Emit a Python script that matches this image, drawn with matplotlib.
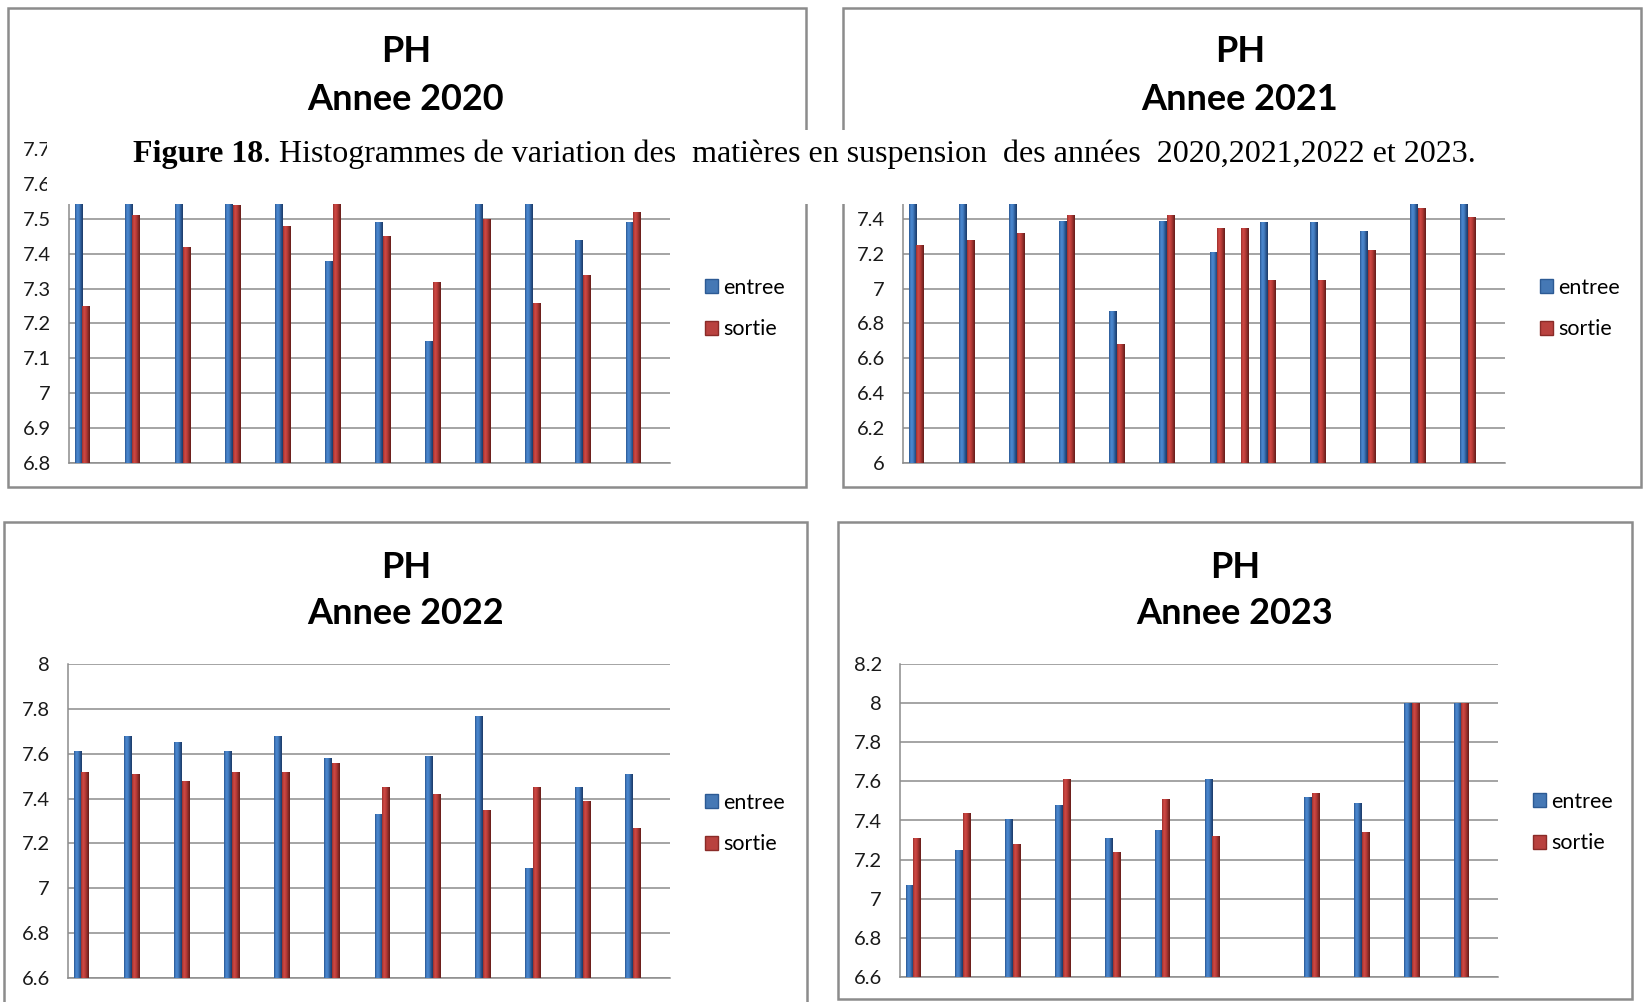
import numpy as np
import matplotlib
matplotlib.use("Agg")
import matplotlib.pyplot as plt
from matplotlib.patches import Rectangle, Patch
from matplotlib.colors import LinearSegmentedColormap

W, H = 1648, 1002

# 12 campagnes de mesure par an (pas d'etiquettes sur l'axe x)
months = np.arange(12)

entree_2020 = [7.62, 7.65, 7.60, 7.64, 7.61, 7.38, 7.49, 7.15, 7.60, 7.63, 7.44, 7.49]
sortie_2020 = [7.25, 7.51, 7.42, 7.54, 7.48, 7.58, 7.45, 7.32, 7.50, 7.26, 7.34, 7.52]

entree_2021 = [7.60, 7.62, 7.58, 7.39, 6.87, 7.39, 7.21, 7.38, 7.38, 7.33, 7.65, 7.70]
sortie_2021 = [7.25, 7.28, 7.32, 7.42, 6.68, 7.42, 7.35, 7.05, 7.05, 7.22, 7.46, 7.41]
# barre isolee (serie sans legende) entre le 7e et le 8e groupe
extra_2021_index = [6]
extra_2021 = [7.35]

entree_2022 = [7.61, 7.68, 7.65, 7.61, 7.68, 7.58, 7.33, 7.59, 7.77, 7.09, 7.45, 7.51]
sortie_2022 = [7.52, 7.51, 7.48, 7.52, 7.52, 7.56, 7.45, 7.42, 7.35, 7.45, 7.39, 7.27]

entree_2023 = [7.07, 7.25, 7.41, 7.48, 7.31, 7.35, 7.61, np.nan, 7.52, 7.49, 8.00, 8.00]
sortie_2023 = [7.31, 7.44, 7.28, 7.61, 7.24, 7.51, 7.32, np.nan, 7.54, 7.34, 8.00, 8.00]

yticks_2020 = [6.8, 6.9, 7.0, 7.1, 7.2, 7.3, 7.4, 7.5, 7.6, 7.7]
yticks_2021 = [6.0, 6.2, 6.4, 6.6, 6.8, 7.0, 7.2, 7.4, 7.6, 7.8]
yticks_2022 = [6.6, 6.8, 7.0, 7.2, 7.4, 7.6, 7.8, 8.0]
yticks_2023 = [6.6, 6.8, 7.0, 7.2, 7.4, 7.6, 7.8, 8.0, 8.2]

series_labels = ["entree", "sortie"]
caption_bold = "Figure 18"
caption_rest = ". Histogrammes de variation des  mati\u00e8res en suspension  des ann\u00e9es  2020,2021,2022 et 2023."

BLUE = "#4578B5"
RED = "#B9423F"
GRID = "#8C8C8C"
blue_cmap = LinearSegmentedColormap.from_list("b", ["#2a5892", "#4a86cf", "#4580c4", "#2b5893", "#1c3a66"])
red_cmap = LinearSegmentedColormap.from_list("r", ["#9c302c", "#cf4945", "#bf3e3a", "#902d2a", "#641d1a"])

OFF_E, OFF_S, OFF_X, BW = -0.31, -0.155, 0.315, 0.155
BAND_TOP, BAND_BOT = 130, 204


def fig_box(x0, y0, x1, y1):
    return [x0 / W, 1 - y1 / H, (x1 - x0) / W, (y1 - y0) / H]


def shade(ax, bars, cmap):
    grad = np.linspace(0, 1, 64).reshape(1, -1)
    for b in bars:
        if not np.isfinite(b.get_height()) or b.get_height() <= 0:
            continue
        x0, y0 = b.get_x(), b.get_y()
        im = ax.imshow(grad, cmap=cmap, aspect="auto", zorder=3,
                       extent=[x0, x0 + b.get_width(), y0, y0 + b.get_height()])
        im.set_clip_path(b)


def panel(fig, box, entree, sortie, yticks, frame, title, tcx, leg):
    # cadre gris du graphique
    fx0, fy0, fx1, fy1 = frame
    fig.add_artist(Rectangle((fx0 / W, 1 - fy1 / H), (fx1 - fx0) / W, (fy1 - fy0) / H,
                             transform=fig.transFigure, fill=False, edgecolor=GRID, lw=1.8, zorder=1))
    fig.text(tcx / W, 1 - box[4] / H, "PH", ha="center", va="center",
             fontsize=26, fontweight="bold", family="Lato")
    fig.text(tcx / W, 1 - box[5] / H, title, ha="center", va="center",
             fontsize=26, fontweight="bold", family="Lato")

    ymin = yticks[0]
    ax = fig.add_axes(fig_box(*box[:4]))
    b1 = ax.bar(months + OFF_E, np.array(entree) - ymin, bottom=ymin, width=BW, color=BLUE, zorder=2)
    b2 = ax.bar(months + OFF_S, np.array(sortie) - ymin, bottom=ymin, width=BW, color=RED, zorder=2)
    shade(ax, b1, blue_cmap)
    shade(ax, b2, red_cmap)

    ax.set_xlim(-0.5, 11.5)
    ax.set_ylim(yticks[0], yticks[-1])
    ax.set_yticks(yticks)
    ax.set_yticklabels([f"{v:g}" for v in yticks])
    ax.set_xticks([])
    ax.tick_params(axis="y", length=0, pad=13, labelsize=14.5, labelcolor="#1a1a1a")
    for lab in ax.get_yticklabels():
        lab.set_family("Lato")
    ax.grid(axis="y", color=GRID, lw=1.1)
    ax.set_axisbelow(True)
    for s in ["top", "right"]:
        ax.spines[s].set_visible(False)
    for s in ["left", "bottom"]:
        ax.spines[s].set_color(GRID)
        ax.spines[s].set_linewidth(1.1)

    handles = [Patch(facecolor=BLUE, edgecolor="#2c5a94"), Patch(facecolor=RED, edgecolor="#8a2b28")]
    ax.legend(handles, series_labels, frameon=False, loc="upper left",
              bbox_to_anchor=(leg[0] / W, 1 - leg[1] / H), bbox_transform=fig.transFigure,
              handlelength=0.62, handleheight=0.62, handletextpad=0.22, labelspacing=1.0,
              borderpad=0, prop={"family": "Lato", "size": 15.5})
    return ax


def hide_under_band(ax, fig):
    # les etiquettes entierement couvertes par le bandeau de legende
    fig.canvas.draw()
    for lab in ax.get_yticklabels():
        bb = lab.get_window_extent()
        top_px = H - bb.y1
        bot_px = H - bb.y0
        if top_px > BAND_TOP and bot_px < BAND_BOT and bb.x0 > 47:
            lab.set_visible(False)


def main():
    fig = plt.figure(figsize=(W / 100, H / 100), dpi=100)

    # box = (gauche, haut, droite, bas, y "PH", y "Annee")
    panel(fig, (69, 149, 670, 463, 52, 100), entree_2020, sortie_2020, yticks_2020,
          (8, 8, 806, 487), "Annee 2020", 406, (694, 267))
    ax21 = panel(fig, (903, 149, 1505, 463, 52, 100), entree_2021, sortie_2021, yticks_2021,
                 (843, 8, 1641, 487), "Annee 2021", 1240, (1529, 267))
    bx = ax21.bar(np.array(extra_2021_index) + OFF_X, np.array(extra_2021) - yticks_2021[0],
                  bottom=yticks_2021[0], width=BW, color=RED, zorder=2)
    shade(ax21, bx, red_cmap)
    ax21.set_xlim(-0.5, 11.5)
    ax21.set_ylim(yticks_2021[0], yticks_2021[-1])

    panel(fig, (68, 664, 670, 978, 567, 614), entree_2022, sortie_2022, yticks_2022,
          (4, 522, 807, 1012), "Annee 2022", 406, (694, 782))
    panel(fig, (900, 664, 1498, 977, 567, 614), entree_2023, sortie_2023, yticks_2023,
          (838, 522, 1632, 999), "Annee 2023", 1235, (1522, 781))

    hide_under_band(ax21, fig)

    # bandeau blanc de la legende de figure, pose par-dessus les deux graphiques du haut
    fig.add_artist(Rectangle((47 / W, 1 - BAND_BOT / H), (1628 - 47) / W, (BAND_BOT - BAND_TOP) / H,
                             transform=fig.transFigure, facecolor="white", edgecolor="none", zorder=10))
    t1 = fig.text(133 / W, 1 - 154 / H, caption_bold, ha="left", va="center", fontsize=23,
                  fontweight="bold", family="Liberation Serif", zorder=11)
    fig.canvas.draw()
    ext = t1.get_window_extent()
    fig.text(ext.x1 / W, 1 - 154 / H, caption_rest, ha="left", va="center", fontsize=23,
             family="Liberation Serif", zorder=11)

    fig.savefig("out.png", dpi=100)
    plt.close(fig)


if __name__ == "__main__":
    main()
